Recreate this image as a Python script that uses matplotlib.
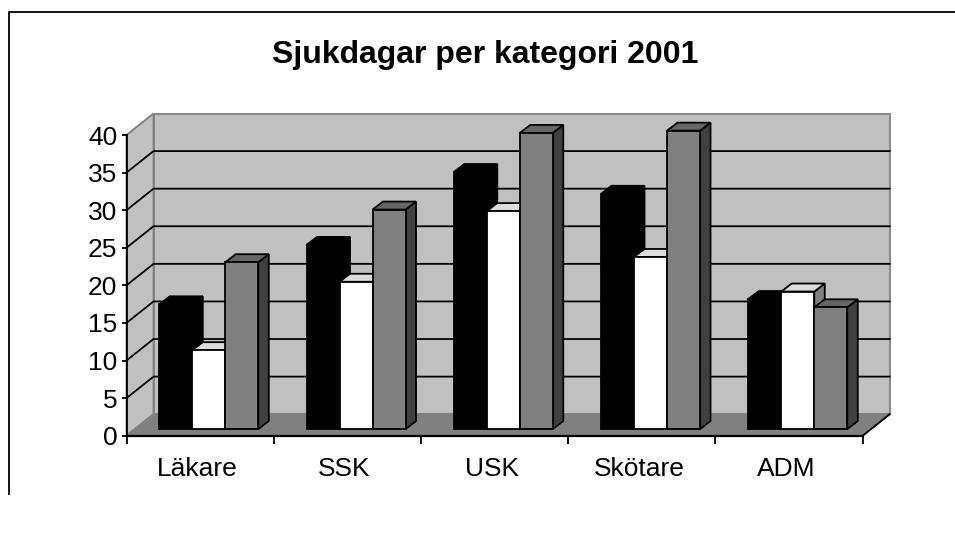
import matplotlib
matplotlib.use("Agg")
import matplotlib.pyplot as plt
from matplotlib.lines import Line2D

plt.rcParams['font.family'] = ['Liberation Sans', 'DejaVu Sans']

categories = ['Läkare', 'SSK', 'USK', 'Skötare', 'ADM']
serie_1 = [16.6, 24.5, 34.2, 31.3, 17.3]
serie_2 = [10.5, 19.6, 29.0, 22.9, 18.3]
serie_3 = [22.2, 29.2, 39.4, 39.7, 16.2]
y_ticks = [0, 5, 10, 15, 20, 25, 30, 35, 40]

W, H = 955, 542
X0, X1 = 126.5, 862.7
Y0, Y40 = 435.7, 135.0
px_x = (X1 - X0) / len(categories)  # pixels per category
px_y = (Y0 - Y40) / 40              # pixels per value unit

# depth of the fake 3D box and of the bars, in data units
WALL_DX, WALL_DY = 27.0 / px_x, 21.5 / px_y
BAR_DX, BAR_DY = 10.5 / px_x, 8.0 / px_y
BASE_DX, BASE_DY = 8.5 / px_x, 6.6 / px_y
BAR_W = 33.0 / px_x
GROUP_START = 24.3 / px_x
LW = 1.3

fig = plt.figure(figsize=(W / 100, H / 100), dpi=100)
ax = fig.add_axes([X0 / W, (H - Y0) / H, (X1 - X0) / W, (Y0 - Y40) / H])
ax.set_xlim(0, len(categories))
ax.set_ylim(0, 40)
ax.patch.set_visible(False)

n = len(categories)
grey_edge = '#808080'

# walls and floor
ax.fill([0, WALL_DX, WALL_DX, 0], [0, WALL_DY, 40 + WALL_DY, 40], fc='#c0c0c0', ec=grey_edge, lw=LW, zorder=1, clip_on=False)
ax.fill([WALL_DX, n + WALL_DX, n + WALL_DX, WALL_DX], [WALL_DY, WALL_DY, 40 + WALL_DY, 40 + WALL_DY],
        fc='#c0c0c0', ec=grey_edge, lw=LW, zorder=1, clip_on=False)
ax.fill([0, n, n + WALL_DX, WALL_DX], [0, 0, WALL_DY, WALL_DY], fc='#808080', ec=grey_edge, lw=LW, zorder=1.1, clip_on=False)
ax.plot([n, n + WALL_DX], [0, WALL_DY], color='black', lw=LW, zorder=1.2, clip_on=False)

# gridlines on both walls
for t in y_ticks[1:-1]:
    ax.plot([0, WALL_DX, n + WALL_DX], [t, t + WALL_DY, t + WALL_DY], color='black', lw=LW, zorder=1.5, clip_on=False)


def draw_bar(x, v, front, top, side, z):
    x0 = x + BASE_DX
    x1 = x0 + BAR_W
    y0 = BASE_DY
    y1 = BASE_DY + v
    ax.fill([x1, x1 + BAR_DX, x1 + BAR_DX, x1], [y0, y0 + BAR_DY, y1 + BAR_DY, y1],
            fc=side, ec='black', lw=LW, zorder=z, clip_on=False)
    ax.fill([x0, x0 + BAR_DX, x1 + BAR_DX, x1], [y1, y1 + BAR_DY, y1 + BAR_DY, y1],
            fc=top, ec='black', lw=LW, zorder=z, clip_on=False)
    ax.fill([x0, x1, x1, x0], [y0, y0, y1, y1], fc=front, ec='black', lw=LW, zorder=z, clip_on=False)


styles = [
    (serie_1, 'black', 'black', 'black'),
    (serie_2, 'white', '#dddddd', '#808080'),
    (serie_3, '#808080', '#666666', '#404040'),
]
for i in range(n):
    for j, (vals, front, top, side) in enumerate(styles):
        draw_bar(i + GROUP_START + j * BAR_W, vals[i], front, top, side, 2 + i + j * 0.1)

# axes
ax.spines['top'].set_visible(False)
ax.spines['right'].set_visible(False)
ax.spines['left'].set_linewidth(LW)
ax.spines['bottom'].set_linewidth(LW + 0.3)
ax.spines['left'].set_zorder(20)
ax.spines['bottom'].set_zorder(20)
ax.set_yticks(y_ticks)
ax.set_xticks(range(n + 1))
ax.set_xticklabels([])
ax.set_xticks([i + 0.48 for i in range(n)], minor=True)
ax.set_xticklabels(categories, minor=True)
ax.tick_params(axis='y', length=3.5, width=LW, labelsize=19, pad=3)
ax.tick_params(axis='x', which='major', length=6, width=LW)
ax.tick_params(axis='x', which='minor', length=0, labelsize=19, pad=15)

fig.text(485 / W, 1 - 54.5 / H, 'Sjukdagar per kategori 2001', ha='center', va='center', fontsize=23, fontweight='bold')

# chart frame, only partly inside the picture
fig.add_artist(Line2D([8.5 / W, 8.5 / W, 1], [1 - 494 / H, 1 - 12 / H, 1 - 12 / H], color='black', lw=LW))

fig.savefig('out.png', dpi=100)
